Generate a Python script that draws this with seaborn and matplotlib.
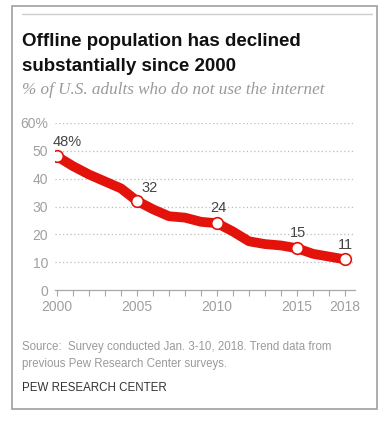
import pandas as pd
import seaborn as sns
import matplotlib.pyplot as plt
from matplotlib.patches import Rectangle
from matplotlib.lines import Line2D

years = list(range(2000, 2019))
offline = [48, 44.5, 41.5, 39, 36.5, 32, 29, 26.5, 26, 24.5, 24, 21, 17.5, 16.5, 16, 15, 13, 12, 11]
label_years = [2000, 2005, 2010, 2015, 2018]
label_texts = ['48%', '32', '24', '15', '11']
yticks = [0, 10, 20, 30, 40, 50, 60]
ytick_labels = ['0', '10', '20', '30', '40', '50', '60%']
xtick_labels = [2000, 2005, 2010, 2015, 2018]

df = pd.DataFrame({'year': years, 'offline': offline})

sns.set_style('white')
plt.rcParams['font.family'] = ['Liberation Sans', 'DejaVu Sans']

W, H = 391, 423
fig = plt.figure(figsize=(W / 100, H / 100), dpi=100)

# frame and top rule
fig.patches.append(Rectangle((12 / W, 1 - 409 / H), 365 / W, 403 / H, transform=fig.transFigure,
                             fill=False, edgecolor='#a0a0a0', linewidth=1.2))
fig.lines.append(Line2D([22 / W, 372 / W], [1 - 14 / H, 1 - 14 / H], transform=fig.transFigure,
                        color='#cfcfcf', linewidth=1))

ax = fig.add_axes([55 / W, 1 - 290 / H, 300 / W, 167 / H])
red = '#e3120b'
sns.lineplot(data=df, x='year', y='offline', ax=ax, color=red, linewidth=7,
             solid_capstyle='round', solid_joinstyle='round')
pts = df[df['year'].isin(label_years)]
ax.scatter(pts['year'], pts['offline'], s=70, facecolor='white', edgecolor=red, linewidth=1.2, zorder=5)

offsets = {2000: (7, 5), 2005: (9, 4), 2010: (1, 6), 2015: (1, 6), 2018: (0, 5)}
for yr, txt in zip(label_years, label_texts):
    v = df.loc[df['year'] == yr, 'offline'].iloc[0]
    dx, dy = offsets[yr]
    ax.annotate(txt, (yr, v), xytext=(dx, dy), textcoords='offset points', ha='center', va='bottom',
                fontsize=10.5, color='#444444')

ax.set_xlim(1999.875, 2018.625)
ax.set_ylim(0, 60)
ax.set_yticks(yticks)
ax.set_yticklabels(ytick_labels)
ax.set_xticks(xtick_labels)
ax.set_xticklabels([str(x) for x in xtick_labels])
ax.set_xticks(years, minor=True)
ax.tick_params(axis='x', which='both', length=4, color='#a8a8a8', width=0.8, direction='out', bottom=True,
               labelsize=10, labelcolor='#a0a0a0', pad=3)
ax.tick_params(axis='y', length=0, labelsize=10, labelcolor='#a0a0a0', pad=5)
for g in yticks[1:]:
    ax.axhline(g, color='#bcbcbc', linestyle=(0, (1, 2)), linewidth=0.9, zorder=0)
for s in ['top', 'right', 'left']:
    ax.spines[s].set_visible(False)
ax.spines['bottom'].set_color('#a8a8a8')
ax.spines['bottom'].set_linewidth(0.9)
ax.set_xlabel('')
ax.set_ylabel('')

fig.text(22 / W, 1 - 46 / H, 'Offline population has declined', fontsize=13.5,
         fontweight='bold', color='#111111', va='baseline')
fig.text(22 / W, 1 - 71 / H, 'substantially since 2000', fontsize=13.5,
         fontweight='bold', color='#111111', va='baseline')
fig.text(22 / W, 1 - 94 / H, '% of U.S. adults who do not use the internet',
         family=['Liberation Serif', 'DejaVu Serif'], style='italic', fontsize=12.3, color='#9a9a9a',
         va='baseline')
fig.text(22 / W, 1 - 350 / H, 'Source:  Survey conducted Jan. 3-10, 2018. Trend data from',
         fontsize=8.3, color='#9a9a9a', va='baseline')
fig.text(22 / W, 1 - 367 / H, 'previous Pew Research Center surveys.',
         fontsize=8.3, color='#9a9a9a', va='baseline')
fig.text(22 / W, 1 - 391 / H, 'PEW RESEARCH CENTER', fontsize=8.3, color='#333333', va='baseline')

fig.savefig('out.png', dpi=100)
